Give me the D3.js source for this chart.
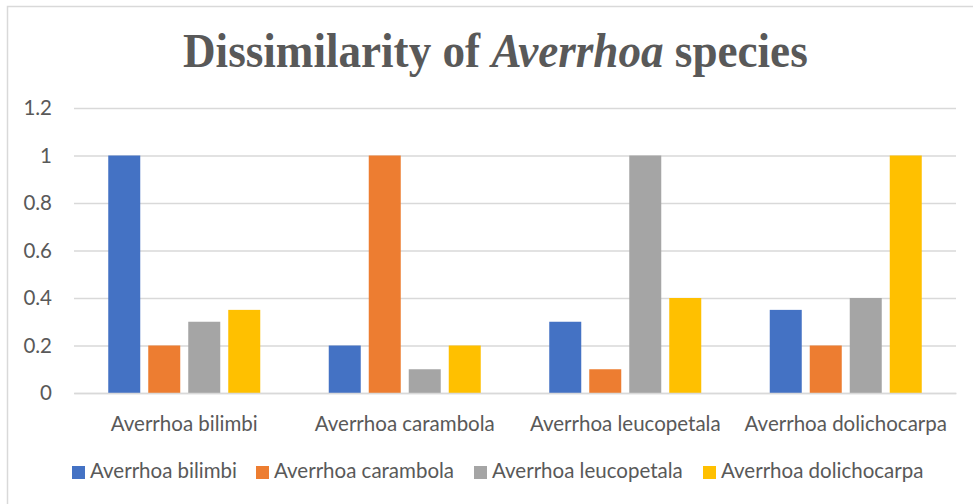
<!DOCTYPE html>
<html lang="en">
<head>
    <meta charset="UTF-8">
    <title>Dissimilarity of Averrhoa species</title>
    <script src="https://d3js.org/d3.v7.min.js"></script>
    <style>
        body { margin: 0; background: #fff; }
        svg { display: block; }
    </style>
</head>
<body>
    <div id="chart"></div>

    <script>
        // Data
        const categories = ["Averrhoa bilimbi", "Averrhoa carambola", "Averrhoa leucopetala", "Averrhoa dolichocarpa"];
        const seriesNames = ["Averrhoa bilimbi", "Averrhoa carambola", "Averrhoa leucopetala", "Averrhoa dolichocarpa"];
        const bilimbi = [1, 0.2, 0.3, 0.35];
        const carambola = [0.2, 1, 0.1, 0.2];
        const leucopetala = [0.3, 0.1, 1, 0.4];
        const dolichocarpa = [0.35, 0.2, 0.4, 1];
        const yTicks = [0, 0.2, 0.4, 0.6, 0.8, 1, 1.2];
        const colors = ["#4472c4", "#ed7d31", "#a5a5a5", "#ffc000"];

        const seriesValues = [bilimbi, carambola, leucopetala, dolichocarpa];

        const width = 973, height = 504;
        const margin = { top: 108, left: 74, right: 17, bottom: 111 };
        const plotW = width - margin.left - margin.right;
        const plotH = height - margin.top - margin.bottom;
        const font = "Lato, 'Open Sans', sans-serif";
        const fontSize = 20.5;

        const svg = d3.select("#chart").append("svg")
            .attr("width", width)
            .attr("height", height);

        // chart area border (only top and left are inside the picture)
        svg.append("rect")
            .attr("x", 7.5).attr("y", 6.5)
            .attr("width", width + 10).attr("height", height + 10)
            .attr("fill", "none")
            .attr("stroke", "#d9d9d9")
            .attr("stroke-width", 1.5);

        // title, squeezed to the width it has in the original
        const title = svg.append("text")
            .attr("font-family", "'Liberation Serif', 'Times New Roman', serif")
            .attr("font-weight", "bold")
            .attr("font-size", 48)
            .attr("fill", "#595959");
        title.append("tspan").text("Dissimilarity of ");
        title.append("tspan").attr("font-style", "italic").text("Averrhoa");
        title.append("tspan").text(" species");
        const titleLen = title.node().getComputedTextLength();
        title.attr("transform", `translate(183,67) scale(${625 / titleLen},1)`);

        const g = svg.append("g")
            .attr("transform", `translate(${margin.left},${margin.top})`);

        const y = d3.scaleLinear().domain([0, 1.2]).range([plotH, 0]);
        const x0 = d3.scaleBand().domain(categories).range([0, plotW]).padding(0);
        const groupInset = (x0.bandwidth() - 152) / 2;
        const x1 = d3.scaleBand().domain(seriesNames)
            .range([groupInset, x0.bandwidth() - groupInset])
            .paddingInner(0.2).paddingOuter(0);

        // gridlines
        g.append("g")
            .call(d3.axisLeft(y).tickValues(yTicks).tickSize(-plotW).tickFormat(""))
            .call(s => s.select(".domain").remove())
            .call(s => s.selectAll("line").attr("stroke", "#d9d9d9").attr("stroke-width", 1.5));

        // y tick labels
        g.append("g")
            .call(d3.axisLeft(y).tickValues(yTicks).tickSize(0).tickPadding(22).tickFormat(d3.format("")))
            .call(s => s.select(".domain").remove())
            .call(s => s.selectAll("text")
                .attr("font-family", font)
                .attr("font-size", fontSize)
                .attr("fill", "#595959"));

        // bars
        const groups = g.selectAll(".grp")
            .data(categories)
            .enter().append("g")
            .attr("class", "grp")
            .attr("transform", d => `translate(${x0(d)},0)`);

        groups.selectAll("rect")
            .data((d, i) => seriesNames.map((s, j) => ({ s: s, v: seriesValues[j][i], c: colors[j] })))
            .enter().append("rect")
            .attr("x", d => x1(d.s))
            .attr("y", d => y(d.v))
            .attr("width", x1.bandwidth())
            .attr("height", d => plotH - y(d.v))
            .attr("fill", d => d.c);

        // x axis
        g.append("g")
            .attr("transform", `translate(0,${plotH})`)
            .call(d3.axisBottom(x0).tickSize(0))
            .call(s => s.select(".domain").attr("stroke", "#d9d9d9").attr("stroke-width", 1.5))
            .call(s => s.selectAll("text")
                .attr("y", 38)
                .attr("dy", 0)
                .attr("font-family", font)
                .attr("font-size", fontSize)
                .attr("fill", "#595959"));

        // legend
        const legendX = [72, 256, 474, 703];
        const legend = svg.append("g").attr("transform", "translate(0,466)");
        const items = legend.selectAll("g")
            .data(seriesNames)
            .enter().append("g")
            .attr("transform", (d, i) => `translate(${legendX[i]},0)`);
        items.append("rect")
            .attr("width", 13).attr("height", 13)
            .attr("fill", (d, i) => colors[i]);
        items.append("text")
            .attr("x", 18).attr("y", 12)
            .attr("font-family", font)
            .attr("font-size", fontSize)
            .attr("fill", "#595959")
            .text(d => d);
    </script>
</body>
</html>
